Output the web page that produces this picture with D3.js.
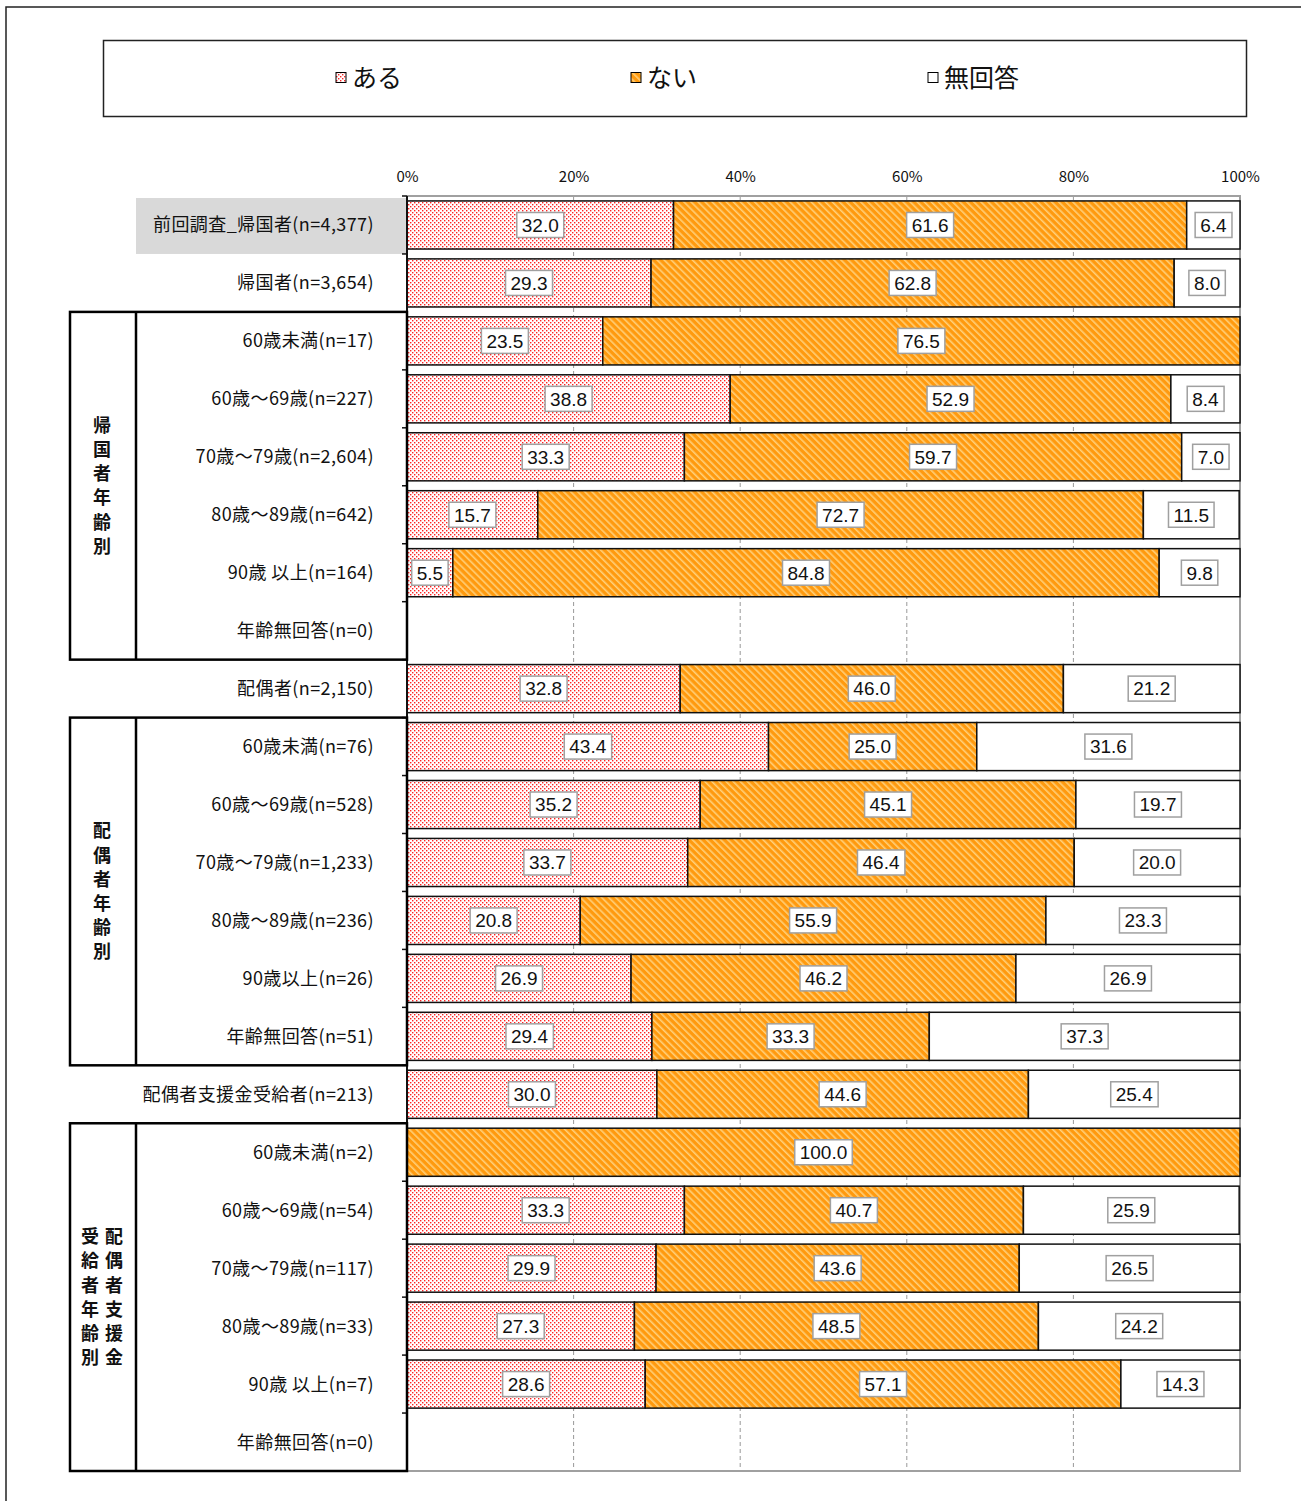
<!DOCTYPE html>
<html>
<head>
<meta charset="utf-8">
<script src="https://cdn.jsdelivr.net/npm/d3@7"></script>
<style>
  body { margin: 0; background: #fff; }
  text { font-family: "Noto Sans CJK JP", "Noto Sans", sans-serif; }
</style>
</head>
<body>
<svg id="chart" width="1301" height="1501"></svg>
<script>
// rows, top to bottom
let rowLabels = [
    '前回調査_帰国者(n=4,377)', '帰国者(n=3,654)',
    '60歳未満(n=17)', '60歳～69歳(n=227)', '70歳～79歳(n=2,604)', '80歳～89歳(n=642)', '90歳 以上(n=164)', '年齢無回答(n=0)',
    '配偶者(n=2,150)',
    '60歳未満(n=76)', '60歳～69歳(n=528)', '70歳～79歳(n=1,233)', '80歳～89歳(n=236)', '90歳以上(n=26)', '年齢無回答(n=51)',
    '配偶者支援金受給者(n=213)',
    '60歳未満(n=2)', '60歳～69歳(n=54)', '70歳～79歳(n=117)', '80歳～89歳(n=33)', '90歳 以上(n=7)', '年齢無回答(n=0)'
];
let seriesNames = ['ある', 'ない', '無回答'];
// null = no answers in that row
let aru = [32.0, 29.3, 23.5, 38.8, 33.3, 15.7, 5.5, null, 32.8, 43.4, 35.2, 33.7, 20.8, 26.9, 29.4, 30.0, 0, 33.3, 29.9, 27.3, 28.6, null];
let nai = [61.6, 62.8, 76.5, 52.9, 59.7, 72.7, 84.8, null, 46.0, 25.0, 45.1, 46.4, 55.9, 46.2, 33.3, 44.6, 100.0, 40.7, 43.6, 48.5, 57.1, null];
let muk = [6.4, 8.0, 0, 8.4, 7.0, 11.5, 9.8, null, 21.2, 31.6, 19.7, 20.0, 23.3, 26.9, 37.3, 25.4, 0, 25.9, 26.5, 24.2, 14.3, null];
let xTicks = [0, 20, 40, 60, 80, 100];
// side groups: first row, last row, columns of vertical text (right to left)
let groups = [
    { from: 2, to: 7, cols: ['帰国者年齢別'] },
    { from: 9, to: 14, cols: ['配偶者年齢別'] },
    { from: 16, to: 21, cols: ['配偶者支援金', '受給者年齢別'] }
];

let plot = { left: 407, right: 1240, top: 196, bottom: 1471 };
let svg = d3.select('#chart');

let x = d3.scaleLinear().domain([0, 100]).range([plot.left, plot.right]);
let y = d3.scaleBand().domain(d3.range(rowLabels.length)).range([plot.top, plot.bottom])
    .paddingInner(0.17).paddingOuter(0.085);

// patterns
let defs = svg.append('defs');
let dots = defs.append('pattern').attr('id', 'dots').attr('patternUnits', 'userSpaceOnUse')
    .attr('width', 4).attr('height', 4);
dots.append('rect').attr('width', 4).attr('height', 4).attr('fill', '#fff');
dots.append('rect').attr('x', 0).attr('y', 0).attr('width', 1.4).attr('height', 1.4).attr('fill', '#f22');
dots.append('rect').attr('x', 2).attr('y', 2).attr('width', 1.4).attr('height', 1.4).attr('fill', '#f22');

let hatch = defs.append('pattern').attr('id', 'hatch').attr('patternUnits', 'userSpaceOnUse')
    .attr('width', 5).attr('height', 5).attr('patternTransform', 'rotate(-45)');
hatch.append('rect').attr('width', 5).attr('height', 5).attr('fill', '#ff9a0f');
hatch.append('rect').attr('x', 0).attr('width', 1.6).attr('height', 5).attr('fill', '#ffd07a');

let fills = ['url(#dots)', 'url(#hatch)', '#fff'];

// outer frame
svg.append('path').attr('d', 'M6,1501 V7 H1301').attr('fill', 'none').attr('stroke', '#222').attr('stroke-width', 1.5);

// legend
svg.append('rect').attr('x', 103.5).attr('y', 40.5).attr('width', 1143).attr('height', 76)
    .attr('fill', '#fff').attr('stroke', '#222').attr('stroke-width', 1.5);
let legendX = [336, 631, 928];
seriesNames.forEach(function (name, i) {
    svg.append('rect').attr('x', legendX[i]).attr('y', 72.5).attr('width', 10).attr('height', 10)
        .attr('fill', fills[i]).attr('stroke', '#000').attr('stroke-width', 1);
    svg.append('text').attr('x', legendX[i] + 16).attr('y', 87).attr('font-size', 25).attr('fill', '#111').text(name);
});

// highlighted label background for the previous survey row
svg.append('rect').attr('x', 136).attr('y', plot.top + 2).attr('width', plot.left - 136)
    .attr('height', y.step() - 2).attr('fill', '#d9d9d9');

// grid lines
svg.append('g').selectAll('line').data(xTicks.slice(1, -1)).join('line')
    .attr('x1', d => x(d)).attr('x2', d => x(d)).attr('y1', plot.top).attr('y2', plot.bottom)
    .attr('stroke', '#999').attr('stroke-dasharray', '4,3');

// plot border (gray top/right/bottom)
svg.append('path').attr('d', `M${plot.left},${plot.top} H${plot.right} V${plot.bottom} H${plot.left}`)
    .attr('fill', 'none').attr('stroke', '#a0a0a0').attr('stroke-width', 2);

// top axis
let xAxis = svg.append('g').attr('transform', `translate(0,${plot.top})`)
    .call(d3.axisTop(x).tickValues(xTicks).tickFormat(d => d + '%').tickSize(0).tickPadding(14));
xAxis.select('.domain').remove();
xAxis.selectAll('text').attr('font-size', 15).attr('fill', '#111');

// bars
let segs = [];
rowLabels.forEach(function (label, i) {
    let vals = [aru[i], nai[i], muk[i]];
    if (vals[0] == null) return;
    let acc = 0;
    vals.forEach(function (v, k) {
        if (v > 0) segs.push({ row: i, k: k, v: v, x0: acc, x1: Math.min(100, acc + v) });
        acc += v;
    });
});

svg.append('g').selectAll('rect').data(segs).join('rect')
    .attr('x', d => x(d.x0)).attr('y', d => y(d.row))
    .attr('width', d => x(d.x1) - x(d.x0)).attr('height', y.bandwidth())
    .attr('fill', d => fills[d.k]).attr('stroke', '#111').attr('stroke-width', 1.5);

// value labels
let labels = svg.append('g').selectAll('g').data(segs).join('g')
    .attr('transform', d => `translate(${x((d.x0 + d.x1) / 2)},${y(d.row) + y.bandwidth() / 2})`);
labels.append('text').attr('text-anchor', 'middle').attr('dy', '0.36em')
    .style('font-family', '"Liberation Sans", Arial, sans-serif').attr('font-size', 19).attr('fill', '#111')
    .text(d => d.v.toFixed(1));
labels.each(function () {
    let g = d3.select(this);
    let bb = g.select('text').node().getBBox();
    g.insert('rect', 'text').attr('x', bb.x - 5).attr('y', -12.5).attr('width', bb.width + 10).attr('height', 25)
        .attr('fill', '#fff').attr('stroke', '#a0a0a0').attr('stroke-width', 1.5);
});

// left axis (black) with ticks at band edges
svg.append('line').attr('x1', plot.left).attr('x2', plot.left).attr('y1', plot.top).attr('y2', plot.bottom)
    .attr('stroke', '#111').attr('stroke-width', 2);
svg.append('g').selectAll('line').data(d3.range(rowLabels.length + 1)).join('line')
    .attr('x1', plot.left - 5).attr('x2', plot.left)
    .attr('y1', d => plot.top + d * y.step()).attr('y2', d => plot.top + d * y.step())
    .attr('stroke', '#111').attr('stroke-width', 1.5);

// row labels
svg.append('g').selectAll('text').data(rowLabels).join('text')
    .attr('x', 374).attr('y', (d, i) => y(i) + y.bandwidth() / 2).attr('dy', '0.36em')
    .attr('text-anchor', 'end').attr('font-size', 18).attr('letter-spacing', 0.4)
    .attr('fill', '#111').text(d => d);

// group boxes and vertical titles
groups.forEach(function (g) {
    let top = plot.top + g.from * y.step();
    let bot = plot.top + (g.to + 1) * y.step();
    svg.append('rect').attr('x', 70).attr('y', top).attr('width', plot.left - 70).attr('height', bot - top)
        .attr('fill', 'none').attr('stroke', '#000').attr('stroke-width', 2.5);
    svg.append('line').attr('x1', 136).attr('x2', 136).attr('y1', top).attr('y2', bot)
        .attr('stroke', '#000').attr('stroke-width', 2.5);
    let mid = (top + bot) / 2;
    let nc = g.cols.length;
    g.cols.forEach(function (col, c) {
        let cx = nc === 1 ? 102 : (c === 0 ? 114 : 90);
        let chars = col.split('');
        let y0 = mid - (chars.length - 1) * 24.2 / 2;
        chars.forEach(function (ch, j) {
            svg.append('text').attr('x', cx).attr('y', y0 + j * 24.2).attr('dy', '0.36em')
                .attr('text-anchor', 'middle').attr('font-size', 18).attr('font-weight', 'bold')
                .attr('fill', '#111').text(ch);
        });
    });
});
</script>
</body>
</html>
